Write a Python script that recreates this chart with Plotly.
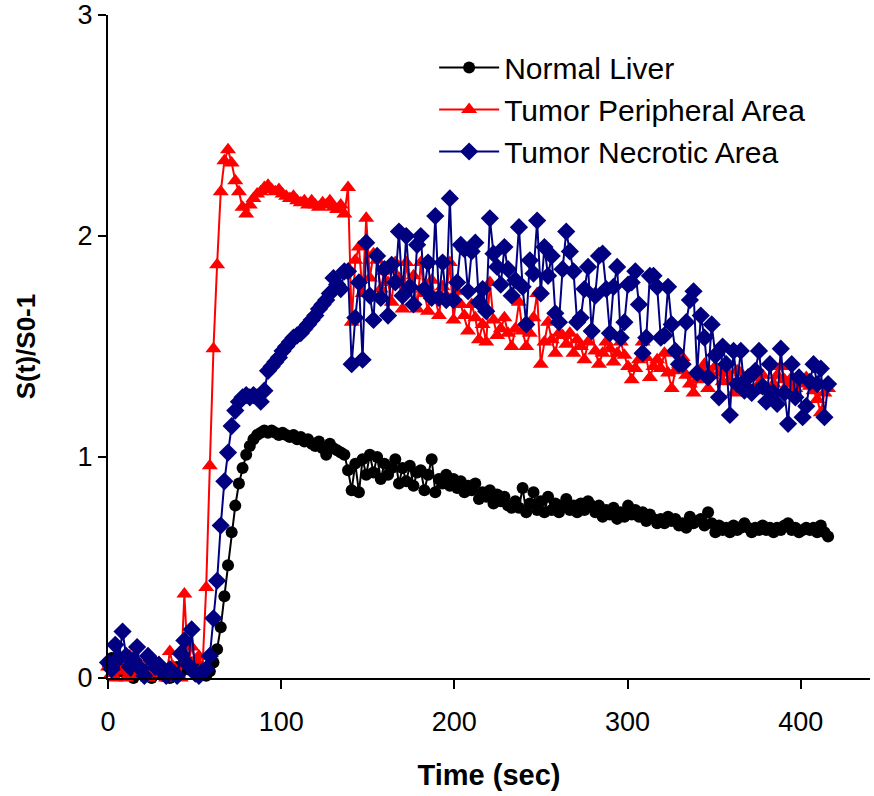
import plotly.graph_objects as go

# Sampling interval of the acquisition (sec)
DT = 2.1

normal_liver = [
    0.06, 0.09, 0.05, 0.03, 0.07, 0.02, 0.04, 0.00, 0.03, 0.05,
    0.01, 0.02, 0.00, 0.04, 0.02, 0.01, 0.03, 0.00, 0.02, 0.05,
    0.03, 0.08, 0.04, 0.07, 0.05, 0.03, 0.02,
    0.01, 0.03, 0.07, 0.13, 0.23, 0.37, 0.51, 0.66, 0.78, 0.88,
    0.95, 1.01, 1.05, 1.08, 1.10, 1.11, 1.12,
    1.11, 1.12, 1.11, 1.10, 1.11, 1.10, 1.09, 1.10, 1.08, 1.09,
    1.07, 1.08, 1.06, 1.05, 1.07, 1.04, 1.01, 1.06, 1.04, 1.03,
    1.02, 1.01, 0.94,
    0.85, 0.97, 0.84, 0.99, 0.92, 1.01, 0.93, 1.00, 0.90, 0.97,
    0.92, 0.95, 0.99, 0.88, 0.95, 0.89, 0.96, 0.87, 0.93, 0.94,
    0.85, 0.92, 0.99, 0.84, 0.90, 0.88, 0.92, 0.87, 0.90, 0.86,
    0.89, 0.84, 0.87, 0.85, 0.88, 0.81, 0.84, 0.82, 0.85, 0.79,
    0.83, 0.80, 0.82, 0.78, 0.77, 0.80, 0.77, 0.86, 0.75, 0.79,
    0.84, 0.76, 0.80, 0.75, 0.82, 0.76, 0.79, 0.75, 0.78, 0.81,
    0.76, 0.78, 0.75, 0.79, 0.76, 0.80, 0.78, 0.75, 0.78, 0.73,
    0.76, 0.74, 0.77, 0.72, 0.75, 0.73, 0.78, 0.74, 0.76, 0.73,
    0.75, 0.71, 0.74, 0.72, 0.70, 0.72, 0.70, 0.73, 0.71, 0.72,
    0.69, 0.70, 0.68, 0.73, 0.70, 0.71, 0.72, 0.69, 0.75, 0.70,
    0.66, 0.69, 0.67, 0.68, 0.66, 0.69, 0.67, 0.68, 0.70, 0.68,
    0.66, 0.68, 0.67, 0.69, 0.67, 0.68, 0.66, 0.68, 0.67, 0.69,
    0.70, 0.67, 0.68, 0.66, 0.67, 0.68, 0.67, 0.68, 0.66, 0.69,
    0.66, 0.64,
]

tumor_peripheral = [
    0.05, 0.02, 0.00, 0.08, 0.03, 0.00, 0.10, 0.04, 0.01, 0.06,
    0.03, 0.00, 0.05, 0.02, 0.07, 0.03, 0.00, 0.12, 0.05, 0.02,
    0.00, 0.38, 0.06, 0.14, 0.08, 0.10, 0.05,
    0.41, 0.96, 1.49, 1.87, 2.20, 2.34, 2.39, 2.33, 2.25, 2.20,
    2.13, 2.10, 2.14, 2.17, 2.19, 2.20, 2.22, 2.23, 2.21, 2.20,
    2.21, 2.19, 2.18, 2.17, 2.18, 2.16, 2.15, 2.16, 2.14, 2.16,
    2.14, 2.13, 2.15, 2.14, 2.16, 2.13, 2.12, 2.14, 2.10, 2.22,
    1.61, 1.89, 1.95, 1.74, 2.08, 1.81, 1.92, 1.89, 1.76, 1.84,
    1.79, 1.70, 1.88, 1.81, 1.67, 1.88, 1.76, 1.82, 1.67, 1.88,
    1.74, 1.66, 1.80, 1.72, 1.64, 1.77, 1.73, 1.88, 1.62, 1.75,
    1.69, 1.64, 1.57, 1.69, 1.63, 1.53, 1.60, 1.52, 1.79, 1.62,
    1.55, 1.58, 1.63, 1.56, 1.50, 1.58, 1.70, 1.57, 1.50, 1.56,
    1.63, 1.74, 1.42, 1.52, 1.61, 1.53, 1.47, 1.56, 1.55, 1.51,
    1.56, 1.47, 1.53, 1.50, 1.44, 1.52, 1.58, 1.48, 1.42, 1.47,
    1.52, 1.49, 1.43, 1.47, 1.52, 1.46, 1.41, 1.35, 1.40, 1.44,
    1.52, 1.45, 1.36, 1.41, 1.44, 1.40, 1.47, 1.38, 1.31, 1.39,
    1.42, 1.45, 1.37, 1.33, 1.29, 1.35, 1.39, 1.42, 1.31, 1.37,
    1.41, 1.38, 1.34, 1.39, 1.35, 1.29, 1.39, 1.38, 1.34, 1.37,
    1.36, 1.36, 1.33, 1.37, 1.30, 1.25, 1.33, 1.37, 1.41, 1.35,
    1.33, 1.36, 1.31, 1.34, 1.33, 1.36, 1.32, 1.30, 1.26, 1.20,
    1.29, 1.31,
]

tumor_necrotic = [
    0.07, 0.04, 0.15, 0.09, 0.21, 0.10, 0.05, 0.08, 0.14, 0.04,
    0.01, 0.10, 0.08, 0.05, 0.06, 0.03, 0.01, 0.04, 0.02, 0.01,
    0.11, 0.17, 0.06, 0.22, 0.02, 0.01, 0.03,
    0.04, 0.10, 0.27, 0.44, 0.69, 0.89, 1.02, 1.14, 1.21, 1.25,
    1.27, 1.28, 1.27, 1.28, 1.27, 1.25, 1.30, 1.39, 1.41, 1.43,
    1.45, 1.48, 1.50, 1.52, 1.54, 1.55, 1.56, 1.58, 1.60, 1.62,
    1.64, 1.67, 1.69, 1.71, 1.74, 1.81, 1.78, 1.76, 1.84, 1.84,
    1.42, 1.63, 1.79, 1.44, 1.97, 1.73, 1.62, 1.91, 1.72, 1.85,
    1.64, 1.87, 1.79, 2.02, 1.73, 2.00, 1.77, 1.69, 1.96, 2.00,
    1.76, 1.88, 1.72, 2.09, 1.72, 1.88, 1.71, 2.17, 1.71, 1.79,
    1.96, 1.94, 1.75, 1.93, 1.97, 1.70, 1.76, 1.66, 2.08, 1.92,
    1.86, 1.78, 1.95, 1.85, 1.73, 1.80, 2.04, 1.77, 1.60, 1.89,
    1.83, 2.07, 1.74, 1.95, 1.82, 1.91, 1.65, 1.61, 1.85, 2.02,
    1.93, 1.84, 1.61, 1.63, 1.76, 1.86, 1.57, 1.73, 1.91, 1.92,
    1.76, 1.56, 1.77, 1.86, 1.54, 1.61, 1.78, 1.79, 1.84, 1.69,
    1.47, 1.54, 1.82, 1.82, 1.77, 1.54, 1.55, 1.77, 1.60, 1.48,
    1.42, 1.42, 1.61, 1.71, 1.75, 1.38, 1.64, 1.54, 1.36, 1.60,
    1.46, 1.27, 1.50, 1.42, 1.19, 1.48, 1.33, 1.48, 1.30, 1.36,
    1.29, 1.39, 1.48, 1.32, 1.25, 1.42, 1.29, 1.24, 1.49, 1.29,
    1.15, 1.42, 1.27, 1.36, 1.18, 1.23, 1.34, 1.42, 1.33, 1.40,
    1.18, 1.33,
]

series_names = ["Normal Liver", "Tumor Peripheral Area", "Tumor Necrotic Area"]
x_ticks = [0, 100, 200, 300, 400]
y_ticks = [0, 1, 2, 3]

FONT = "Arial, 'Liberation Sans', sans-serif"

styles = [
    dict(color="#000000", symbol="circle", size=12),
    dict(color="#FF0000", symbol="triangle-up", size=14),
    dict(color="#000080", symbol="diamond", size=14),
]

fig = go.Figure()
for name, vals, st in zip(series_names, [normal_liver, tumor_peripheral, tumor_necrotic], styles):
    t = [round(DT * i, 2) for i in range(len(vals))]
    fig.add_trace(go.Scatter(
        x=t, y=vals, name=name, mode="lines+markers",
        line=dict(color=st["color"], width=2),
        marker=dict(color=st["color"], symbol=st["symbol"], size=st["size"],
                    line=dict(width=0)),
        cliponaxis=False,
    ))

fig.update_layout(
    width=874, height=796,
    margin=dict(l=108, r=4, t=15, b=118),
    paper_bgcolor="white", plot_bgcolor="white",
    font=dict(family=FONT, color="black", size=27),
    showlegend=True,
    legend=dict(
        x=0.428, y=0.96, xanchor="left", yanchor="top",
        font=dict(family=FONT, size=30, color="black"),
        bgcolor="rgba(0,0,0,0)", itemwidth=60, tracegroupgap=0,
    ),
    xaxis=dict(
        range=[0, 440], tickvals=x_ticks, ticktext=[str(v) for v in x_ticks],
        showline=True, linecolor="black", linewidth=2,
        ticks="outside", ticklen=9, tickwidth=2, tickcolor="black",
        showgrid=False, zeroline=False, mirror=False, automargin=False,
        tickfont=dict(size=27), ticklabelstandoff=10,
        title=dict(text="<b>Time (sec)</b>", font=dict(size=29), standoff=28),
    ),
    yaxis=dict(
        range=[0, 3], tickvals=y_ticks, ticktext=[str(v) for v in y_ticks],
        showline=True, linecolor="black", linewidth=2,
        ticks="outside", ticklen=8, tickwidth=2, tickcolor="black",
        showgrid=False, zeroline=False, automargin=False,
        tickfont=dict(size=27),
        title=dict(text="<b>S(t)/S0-1</b>", font=dict(size=26), standoff=34),
    ),
)

# Remove the browser's default 8px body margin so the figure fills the window.
fig.write_html(
    "out.html",
    config={"displayModeBar": False},
    post_script="document.body.style.margin='0';",
)
